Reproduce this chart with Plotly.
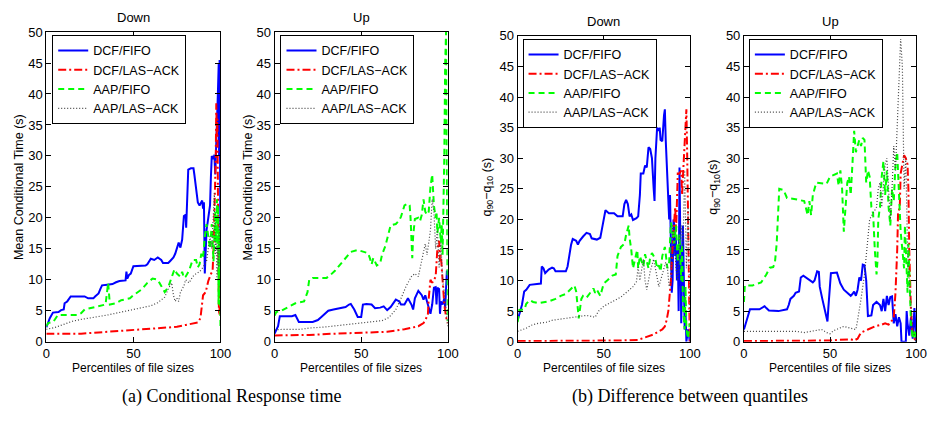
import plotly.graph_objects as go

W, H = 936, 423

series_names = ["DCF/FIFO", "DCF/LAS−ACK", "AAP/FIFO", "AAP/LAS−ACK"]
panel_titles = ["Down", "Up", "Down", "Up"]
x_label = "Percentiles of file sizes"
y_labels = ["Mean Conditional Time (s)", "Mean Conditional Time (s)",
            "q<sub>90</sub>−q<sub>10</sub> (s)", "q<sub>90</sub>−q<sub>10</sub>(s)"]
captions = ["(a) Conditional Response time", "(b) Difference between quantiles"]
x_ticks = [0, 50, 100]
y_ticks = [0, 5, 10, 15, 20, 25, 30, 35, 40, 45, 50]

# ---- Panel 1: Down, mean conditional time ----
p1_dcf_fifo = [(0,2.3),(1,3.0),(2,3.8),(3.8,4.7),(7,4.8),(8.5,5.1),(10,5.2),(10.5,6.2),(12,6.5),(14,7.3),(22,7.3),(24,7.0),(27,7.0),(28,7.3),(30,7.8),(31,8.5),(32,9.1),(35,9.2),(38,9.3),(40,9.6),(42,9.8),(45.5,9.9),(46,11.3),(46.5,10.2),(47.5,10.8),(48.5,11.0),(50,12.2),(57,12.3),(58,12.5),(60,13.4),(62,13.2),(64,13.6),(66,13.2),(67,12.7),(70,12.7),(71,13.0),(73,13.6),(74,14.2),(75,15.2),(76,16.0),(77,15.2),(78,16.5),(79,20.3),(80,20.5),(80.3,18.4),(80.6,22.0),(81,22.5),(81.5,27.8),(83,28.0),(84.5,28.0),(85,27.0),(86,25.0),(87,22.5),(88,22.0),(89.5,22.8),(90,21.5),(90.5,22.5),(91,11.0),(91.5,14.0),(92,18.0),(93,20.0),(94,22.0),(94.5,26.5),(95,30.0),(96,29.5),(96.5,30.2),(97,27.0),(97.5,33.0),(98,35.0),(98.5,40.0),(99,45.0),(99.2,30.0),(99.5,45.5),(99.8,25.0),(100,14.0)]
p1_dcf_las = [(0,1.3),(5,1.3),(20,1.3),(30,1.5),(45,1.8),(55,2.0),(65,2.2),(75,2.4),(80,2.7),(84,2.9),(87,3.1),(88.5,3.8),(89.3,6.0),(90,7.5),(91.5,8.0),(93,9.8),(94.5,10.9),(95.5,11.5),(96,15.0),(96.5,20.0),(97,25.0),(97.3,30.0),(97.6,38.5),(97.9,33.0),(98.2,36.0),(98.5,20.0),(98.8,10.0),(99.1,5.0),(99.4,4.3),(99.7,10.0),(100,15.0)]
p1_aap_fifo = [(0,2.5),(1,3.0),(4,3.2),(6.6,4.3),(18,4.3),(20,4.6),(22,5.2),(27,5.5),(30,5.8),(34,6.0),(35.5,9.5),(36.5,6.0),(40,6.2),(43,6.7),(48,7.0),(50,7.5),(55,8.5),(58,9.5),(61,10.2),(64,10.0),(66,9.0),(68,8.0),(70,8.8),(72,10.5),(73.6,11.7),(75,11.0),(77,10.5),(78,11.3),(79,10.3),(80,10.5),(82,11.5),(84,13.2),(86,13.2),(87,12.0),(88,12.5),(89,14.2),(90,13.5),(91,17.0),(92,19.0),(93,17.0),(94,15.0),(95,19.0),(96,13.0),(97,21.0),(97.5,16.0),(98,23.0),(98.3,15.0),(98.6,22.0),(98.9,6.0),(99.2,18.0),(99.5,15.0),(100,2.5)]
p1_aap_las = [(0,2.0),(5,2.3),(10,2.8),(15,3.3),(20,3.6),(25,3.8),(30,4.0),(35,4.3),(40,4.6),(45,4.9),(50,5.1),(55,5.4),(60,5.8),(64,6.3),(68,7.2),(70,8.5),(72,9.5),(73,7.5),(74,6.5),(75,7.0),(76,6.5),(77,8.0),(79,9.0),(80,10.0),(82,9.5),(84,10.5),(86,11.0),(88,11.3),(90,12.0),(92,13.0),(94,17.0),(95,15.0),(96,20.0),(96.5,24.0),(97,14.0),(97.5,16.0),(98,10.0),(98.5,15.0),(99,12.0),(99.5,20.0),(100,14.0)]

# ---- Panel 2: Up, mean conditional time ----
p2_dcf_fifo = [(0,1.3),(2,2.5),(3,4.1),(10,4.1),(12,4.3),(13,3.8),(14,3.2),(22,3.2),(25,3.5),(27,4.0),(29,4.5),(31,5.0),(34,5.2),(37,5.4),(41,5.6),(43,6.0),(44,6.1),(46,5.2),(47,4.5),(48,4.0),(50,4.0),(51,6.0),(53,6.1),(56,6.0),(58,5.4),(61,5.5),(63,5.7),(65,5.1),(67,5.6),(69,6.5),(70,6.8),(72,6.5),(73,6.0),(75,6.0),(76,6.5),(77,7.0),(79,6.0),(80,5.2),(81,7.0),(83,8.2),(85,7.5),(86,6.8),(87,7.5),(88,6.5),(89,5.5),(90,4.5),(91,6.0),(92,8.7),(93,8.8),(93.5,6.0),(94,8.7),(95,8.5),(95.5,4.5),(96,6.5),(97,6.0),(98,7.0),(98.5,5.5),(99.5,11.5),(100,10.0)]
p2_dcf_las = [(0,1.0),(10,1.0),(20,1.1),(35,1.3),(50,1.4),(65,1.6),(75,2.0),(83,2.5),(86,3.0),(88.5,4.3),(89,7.0),(90,10.0),(91,9.5),(93,10.5),(94,15.0),(95,16.3),(95.5,13.0),(96,14.0),(97,10.0),(98,6.0),(99,4.0),(100,3.0)]
p2_aap_fifo = [(0,4.2),(1,4.8),(4,5.0),(7,5.5),(12,6.2),(17,6.5),(19,8.0),(20,10.0),(22,10.3),(30,10.3),(32,10.7),(35,11.5),(38,12.5),(41,13.5),(44,14.5),(48,14.8),(52,14.5),(54,14.3),(55,13.5),(56,12.5),(57,13.5),(58,13.0),(59,12.3),(61,12.7),(62,14.0),(64,15.5),(66,17.5),(67,18.8),(70,19.0),(72,19.6),(73,20.2),(75,22.0),(77,22.3),(78,22.0),(78.5,20.0),(79,16.0),(79.5,13.5),(80,17.0),(81,19.8),(83,20.0),(84,19.5),(85,20.5),(86,23.0),(87,21.0),(88,20.5),(89,21.0),(90,25.0),(91,27.0),(92,22.0),(93,20.0),(93.5,21.0),(94,17.5),(95,20.0),(96,16.0),(96.5,19.0),(97,14.0),(98,30.0),(98.5,45.0),(99,50.0),(99.3,35.0),(99.6,5.0),(100,3.3)]
p2_aap_las = [(0,1.9),(5,2.0),(15,2.0),(20,2.2),(30,2.4),(40,2.7),(50,3.0),(57,3.2),(62,3.4),(66,3.9),(70,5.2),(73,7.0),(76,9.0),(79,10.5),(81,11.0),(83,10.5),(84,12.0),(85,13.0),(86,14.5),(87,15.8),(88,14.0),(89,16.0),(90,18.0),(90.5,20.5),(91,23.0),(92,21.0),(93,15.0),(94,18.0),(95,12.0),(96,16.0),(97,10.0),(98,8.0),(99,5.0),(100,2.5)]

# ---- Panel 3: Down, q90 - q10 ----
p3_dcf_fifo = [(0,3.5),(1,4.5),(2.5,6.0),(3.8,8.2),(5,8.5),(7,9.3),(13,9.4),(13.5,9.5),(14,12.3),(15,12.0),(16,11.2),(18,11.8),(20,12.1),(21,12.0),(22,11.5),(28,11.5),(29,12.3),(30,14.5),(31,15.8),(32,16.8),(34,16.5),(35,15.9),(36,16.5),(38,17.2),(40,17.8),(42,17.6),(43,16.9),(46,16.7),(48,17.0),(49,18.5),(51,21.5),(53,21.0),(56,21.0),(58,20.5),(61,20.5),(62,22.5),(63,23.2),(64,22.5),(65,20.5),(66,20.8),(67,19.9),(69,20.2),(70,20.5),(71,24.0),(71.5,27.5),(73,27.5),(74,28.8),(75,28.5),(75.5,30.0),(76,31.8),(77,31.5),(78,30.0),(79,25.0),(79.5,23.0),(80,30.0),(81,35.0),(82,34.5),(82.5,35.0),(83,33.0),(84,32.8),(85,37.0),(85.5,38.0),(86,33.0),(87,25.0),(88,20.0),(88.5,24.0),(89,15.0),(89.5,8.0),(90,10.0),(90.5,20.0),(91,19.0),(91.5,14.0),(92,17.0),(92.5,10.0),(93,15.0),(93.5,5.0),(94,28.5),(94.5,15.0),(95,3.0),(96,19.0),(96.5,12.0),(97,2.0),(97.5,5.0),(98,0.0),(99,2.0),(100,0.0)]
p3_dcf_las = [(0,0.1),(50,0.1),(60,0.2),(70,0.3),(75,0.8),(79,1.2),(82,1.7),(84,2.0),(85.5,2.5),(86.5,3.5),(87.5,5.0),(88.5,8.0),(89,10.0),(89.5,13.0),(90,16.0),(91,20.0),(91.5,22.0),(92,18.0),(93,27.5),(94,27.5),(95,28.0),(95.5,24.0),(96,27.0),(98,38.0),(98.5,30.0),(99,18.0),(99.5,5.0),(100,0.0)]
p3_aap_fifo = [(0,3.2),(1,5.2),(4,5.3),(5,6.2),(7,6.8),(9,6.5),(12,6.3),(15,6.5),(18,6.6),(22,7.0),(25,7.5),(28,7.8),(30,8.3),(33,9.2),(34,8.2),(35,5.5),(35.5,3.8),(37,7.0),(38,7.5),(40,7.2),(42,8.0),(44,8.7),(45,8.0),(46,8.5),(48,7.5),(50,9.5),(52,10.0),(55,10.8),(57,11.0),(58,14.0),(60,15.5),(62,16.0),(63,17.5),(64.5,19.0),(65,17.0),(66,15.0),(67,12.0),(68,13.5),(69,14.5),(69.5,15.0),(70,12.0),(71,14.0),(72,13.0),(73,12.3),(74,14.3),(75,13.0),(76,12.0),(77,13.8),(78,14.5),(79,14.0),(80,13.5),(81,12.0),(82,12.5),(83,11.5),(84,14.0),(85.5,15.5),(86,14.0),(87,12.0),(88,13.0),(89,19.5),(90,18.0),(91,16.0),(92,19.0),(93,13.0),(94,17.5),(95,10.0),(95.5,16.0),(96,6.0),(97,2.0),(97.5,9.0),(98,2.0),(99,0.5),(100,3.0)]
p3_aap_las = [(0,1.7),(5,2.2),(8,2.7),(12,3.0),(17,3.2),(20,3.5),(25,3.7),(30,3.9),(35,4.1),(40,4.3),(45,4.0),(47,5.0),(50,5.8),(55,6.5),(60,7.3),(65,8.5),(67,9.0),(69,9.8),(70,12.2),(71,10.0),(72,12.0),(73,13.5),(74,10.0),(75,8.5),(76,10.0),(77,11.5),(79,13.5),(80,12.0),(81,10.0),(82,9.0),(83,10.0),(84,11.0),(85,12.0),(86,13.0),(87,12.0),(88,9.0),(89,10.0),(90,19.0),(91,17.0),(92,12.0),(93,10.0),(94,17.0),(95,19.0),(96,15.0),(97,28.0),(98,12.0),(99,22.0),(100,5.0)]

# ---- Panel 4: Up, q90 - q10 ----
p4_dcf_fifo = [(0,2.0),(1,3.0),(2,4.0),(3.5,5.3),(9,5.3),(10,5.5),(12,5.8),(13,5.5),(14.5,5.1),(20,5.0),(22,5.1),(25,5.3),(26,6.0),(27,7.0),(29,7.5),(30,8.0),(32,8.2),(33,10.5),(34.5,10.8),(36,10.5),(38,10.0),(40,9.7),(41,10.0),(42.5,11.5),(43.5,11.4),(44,9.0),(45.5,7.0),(47,5.0),(48,4.0),(48.5,3.3),(49,5.5),(50.5,11.2),(54,11.3),(55,10.5),(56,9.5),(58,8.5),(60,8.0),(62,7.5),(63,7.8),(64,8.2),(65,7.5),(66,8.5),(67,10.5),(68,10.0),(69,12.6),(70,12.5),(71,10.0),(72,4.2),(74,4.3),(75,6.0),(77,6.5),(79,6.0),(80,5.0),(81,7.0),(82,5.0),(83,7.5),(84,6.0),(85,7.3),(86,7.4),(87,3.0),(88,4.5),(89,2.5),(90,4.0),(91,3.0),(91.5,0.0),(94,0.0),(94.5,5.0),(95,3.0),(96,1.0),(97,4.0),(98,0.5),(99,5.5),(100,0.0)]
p4_dcf_las = [(0,0.1),(40,0.1),(50,0.2),(55,0.3),(62,0.4),(64,0.2),(66,0.5),(67,1.0),(68,1.5),(72,2.0),(76,2.5),(80,2.8),(82,3.0),(84,2.8),(85,3.0),(87,4.0),(88,8.0),(89,15.0),(89.5,21.0),(90.5,22.0),(91,27.5),(93,30.5),(94,30.0),(95,29.0),(95.5,25.0),(96,15.0),(97,5.0),(98,1.0),(100,0.0)]
p4_aap_fifo = [(0,6.5),(0.5,9.2),(5,9.2),(10,9.7),(13,11.0),(15,12.1),(17,12.2),(18,13.0),(19,16.0),(19.5,20.0),(20.5,25.0),(23,24.8),(25,23.5),(30,23.3),(35,23.0),(37,20.7),(38,23.0),(39,20.7),(40,24.0),(42,26.0),(48,25.8),(50,27.0),(54,27.5),(55,25.5),(56,28.0),(57,25.0),(58,18.0),(59,22.0),(60,26.0),(61,27.0),(62,24.0),(63,29.0),(64,34.5),(65,31.0),(67,33.0),(68,32.0),(69,33.3),(70,33.0),(71,26.0),(72,28.0),(73,27.0),(74,22.0),(75,21.0),(76,15.0),(77,11.0),(77.5,13.0),(78,20.0),(79,22.0),(80,27.0),(81,29.5),(82,24.0),(83,28.0),(84,22.0),(85,19.0),(86,25.0),(87,23.0),(88,29.0),(89,31.0),(90,25.0),(91,18.0),(92,15.0),(93,12.0),(93.5,19.0),(94,14.0),(95,8.0),(95.5,16.0),(96,10.0),(97,3.0),(98,0.5),(99,2.0),(100,0.0)]
p4_aap_las = [(0,1.7),(20,1.7),(25,1.8),(30,1.7),(35,1.5),(40,1.8),(45,2.0),(48,1.5),(50,1.3),(52,1.8),(55,2.2),(58,2.5),(62,2.2),(65,2.0),(66,3.5),(67,5.0),(68,7.0),(69,9.0),(70,11.0),(71,14.0),(72,17.0),(73,20.0),(75,21.0),(77,22.0),(78,25.0),(79,26.0),(80,22.0),(81,26.0),(82,29.0),(83,30.0),(84,24.0),(85,20.0),(86,25.0),(87,32.0),(88,28.0),(89,35.0),(90,42.0),(91,49.5),(92,45.0),(93,25.0),(94,30.0),(95,15.0),(96,10.0),(97,5.0),(98,2.0),(100,0.0)]

panels = [
    [p1_dcf_fifo, p1_dcf_las, p1_aap_fifo, p1_aap_las],
    [p2_dcf_fifo, p2_dcf_las, p2_aap_fifo, p2_aap_las],
    [p3_dcf_fifo, p3_dcf_las, p3_aap_fifo, p3_aap_las],
    [p4_dcf_fifo, p4_dcf_las, p4_aap_fifo, p4_aap_las],
]

# ---- styling / layout (pixels) ----
styles = [
    dict(color="#0000ff", width=2, dash="solid"),
    dict(color="#ff0000", width=2, dash="8px,3px,2px,3px"),
    dict(color="#00ff00", width=2, dash="6px,4px"),
    dict(color="#444444", width=1.2, dash="1px,2px"),
]
box_px = [(43, 220, 26, 347), (275, 451, 26, 347), (522, 697, 30, 347), (752, 927, 30, 347)]
legend_px = [(49, 29), (281, 29), (527, 33), (757, 33)]
ylab_x = [16, 248, 492, 722]

FONT = "Liberation Sans, Arial, Helvetica, sans-serif"
SERIF = "Liberation Serif, Times New Roman, serif"

def px_x(p):
    return p / W

def px_y(p):
    return 1 - p / H

fig = go.Figure()
for i, panel in enumerate(panels):
    sfx = "" if i == 0 else str(i + 1)
    for j, pts in enumerate(panel):
        xs = [p[0] for p in pts]
        ys = [p[1] for p in pts]
        fig.add_trace(go.Scatter(
            x=xs, y=ys, mode="lines", name=series_names[j],
            line=styles[j], xaxis="x" + sfx, yaxis="y" + sfx,
            legend="legend" + sfx, showlegend=True,
        ))

def text_ann(text, x, y, size, family=FONT, angle=0):
    return dict(text=text, x=px_x(x), y=px_y(y), xref="paper", yref="paper",
                xanchor="center", yanchor="middle", showarrow=False, textangle=angle,
                font=dict(family=family, size=size, color="black"))

annotations = []
for i in range(4):
    sfx = "" if i == 0 else str(i + 1)
    x0, x1, y0, y1 = box_px[i]
    common = dict(
        showline=True, linecolor="black", linewidth=1, mirror="ticks",
        ticks="inside", ticklen=5, tickcolor="black", showgrid=False,
        zeroline=False, tickfont=dict(family=FONT, size=13, color="black"),
        fixedrange=True,
    )
    ax = dict(domain=[px_x(x0), px_x(x1)], range=[0, 100], tickvals=x_ticks,
              anchor="y" + sfx, **common)
    ay = dict(domain=[px_y(y1), px_y(y0)], range=[0, 50], tickvals=y_ticks,
              anchor="x" + sfx, **common)
    fig.update_layout({"xaxis" + sfx: ax, "yaxis" + sfx: ay})
    lx, ly = legend_px[i]
    fig.update_layout({"legend" + sfx: dict(
        x=px_x(lx), y=px_y(ly), xanchor="left", yanchor="top",
        bordercolor="black", borderwidth=1, bgcolor="white",
        font=dict(family=FONT, size=12.5, color="black"),
        tracegroupgap=0, itemwidth=30,
    )})
    cx = (x0 + x1) / 2
    annotations.append(text_ann(panel_titles[i], cx, y0 - 15, 13))
    annotations.append(text_ann(x_label, cx, 374, 12))
    annotations.append(text_ann(y_labels[i], ylab_x[i], 187, 12.5, angle=-90))

annotations.append(text_ann(captions[0], 231, 404, 18, family=SERIF))
annotations.append(text_ann(captions[1], 697, 404, 18, family=SERIF))

fig.update_layout(
    width=W, height=H, margin=dict(l=0, r=0, t=0, b=0),
    paper_bgcolor="white", plot_bgcolor="white",
    annotations=annotations, font=dict(family=FONT, color="black"),
)

fig.write_html("out.html")
